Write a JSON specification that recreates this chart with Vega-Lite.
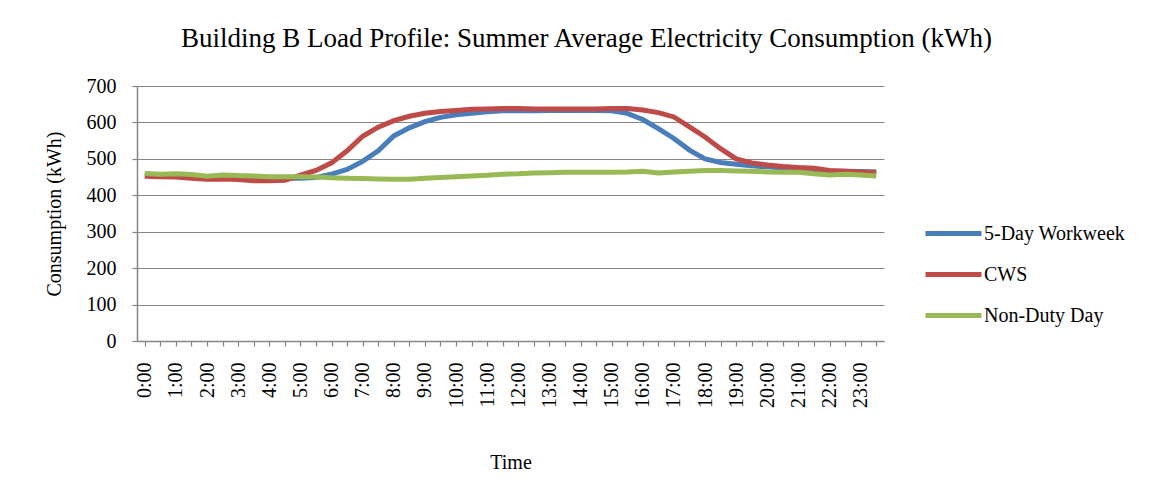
{
  "$schema": "https://vega.github.io/schema/vega-lite/v6.json",
  "width": 747,
  "height": 255,
  "autosize": "none",
  "padding": {"left": 137, "top": 86, "right": 270, "bottom": 146},
  "background": "white",
  "title": {
    "text": "Building B Load Profile: Summer Average Electricity Consumption (kWh)",
    "font": "Liberation Serif",
    "fontSize": 27,
    "fontWeight": "normal",
    "color": "black",
    "anchor": "middle",
    "dx": 76,
    "baseline": "alphabetic",
    "offset": 2
  },
  "config": {
    "font": "Liberation Serif",
    "view": {"stroke": null},
    "axis": {
      "labelFont": "Liberation Serif",
      "titleFont": "Liberation Serif",
      "labelFontSize": 20,
      "titleFontSize": 20,
      "labelColor": "black",
      "titleColor": "black",
      "titleFontWeight": "normal",
      "domainColor": "#868686",
      "tickColor": "#868686",
      "gridColor": "#868686",
      "domainWidth": 1.5,
      "tickWidth": 1.2,
      "gridWidth": 1.2,
      "tickSize": 5
    },
    "legend": {
      "labelFont": "Liberation Serif",
      "labelFontSize": 20,
      "labelColor": "black"
    }
  },
  "data": {
    "values": [
      {"time": "0:00", "series": "5-Day Workweek", "value": 455},
      {"time": "0:30", "series": "5-Day Workweek", "value": 454},
      {"time": "1:00", "series": "5-Day Workweek", "value": 453},
      {"time": "1:30", "series": "5-Day Workweek", "value": 451},
      {"time": "2:00", "series": "5-Day Workweek", "value": 449},
      {"time": "2:30", "series": "5-Day Workweek", "value": 449},
      {"time": "3:00", "series": "5-Day Workweek", "value": 448},
      {"time": "3:30", "series": "5-Day Workweek", "value": 447},
      {"time": "4:00", "series": "5-Day Workweek", "value": 447},
      {"time": "4:30", "series": "5-Day Workweek", "value": 447},
      {"time": "5:00", "series": "5-Day Workweek", "value": 447},
      {"time": "5:30", "series": "5-Day Workweek", "value": 449},
      {"time": "6:00", "series": "5-Day Workweek", "value": 458},
      {"time": "6:30", "series": "5-Day Workweek", "value": 471},
      {"time": "7:00", "series": "5-Day Workweek", "value": 493},
      {"time": "7:30", "series": "5-Day Workweek", "value": 522},
      {"time": "8:00", "series": "5-Day Workweek", "value": 563},
      {"time": "8:30", "series": "5-Day Workweek", "value": 585},
      {"time": "9:00", "series": "5-Day Workweek", "value": 602},
      {"time": "9:30", "series": "5-Day Workweek", "value": 614},
      {"time": "10:00", "series": "5-Day Workweek", "value": 621},
      {"time": "10:30", "series": "5-Day Workweek", "value": 625},
      {"time": "11:00", "series": "5-Day Workweek", "value": 629},
      {"time": "11:30", "series": "5-Day Workweek", "value": 632},
      {"time": "12:00", "series": "5-Day Workweek", "value": 632},
      {"time": "12:30", "series": "5-Day Workweek", "value": 632},
      {"time": "13:00", "series": "5-Day Workweek", "value": 633},
      {"time": "13:30", "series": "5-Day Workweek", "value": 633},
      {"time": "14:00", "series": "5-Day Workweek", "value": 633},
      {"time": "14:30", "series": "5-Day Workweek", "value": 633},
      {"time": "15:00", "series": "5-Day Workweek", "value": 632},
      {"time": "15:30", "series": "5-Day Workweek", "value": 625},
      {"time": "16:00", "series": "5-Day Workweek", "value": 608},
      {"time": "16:30", "series": "5-Day Workweek", "value": 583},
      {"time": "17:00", "series": "5-Day Workweek", "value": 556},
      {"time": "17:30", "series": "5-Day Workweek", "value": 524},
      {"time": "18:00", "series": "5-Day Workweek", "value": 500},
      {"time": "18:30", "series": "5-Day Workweek", "value": 490},
      {"time": "19:00", "series": "5-Day Workweek", "value": 485},
      {"time": "19:30", "series": "5-Day Workweek", "value": 481},
      {"time": "20:00", "series": "5-Day Workweek", "value": 478},
      {"time": "20:30", "series": "5-Day Workweek", "value": 475},
      {"time": "21:00", "series": "5-Day Workweek", "value": 473},
      {"time": "21:30", "series": "5-Day Workweek", "value": 470},
      {"time": "22:00", "series": "5-Day Workweek", "value": 467},
      {"time": "22:30", "series": "5-Day Workweek", "value": 466},
      {"time": "23:00", "series": "5-Day Workweek", "value": 465},
      {"time": "23:30", "series": "5-Day Workweek", "value": 464},
      {"time": "0:00", "series": "CWS", "value": 452},
      {"time": "0:30", "series": "CWS", "value": 451},
      {"time": "1:00", "series": "CWS", "value": 450},
      {"time": "1:30", "series": "CWS", "value": 447},
      {"time": "2:00", "series": "CWS", "value": 444},
      {"time": "2:30", "series": "CWS", "value": 445},
      {"time": "3:00", "series": "CWS", "value": 443},
      {"time": "3:30", "series": "CWS", "value": 440},
      {"time": "4:00", "series": "CWS", "value": 440},
      {"time": "4:30", "series": "CWS", "value": 441},
      {"time": "5:00", "series": "CWS", "value": 455},
      {"time": "5:30", "series": "CWS", "value": 468},
      {"time": "6:00", "series": "CWS", "value": 489},
      {"time": "6:30", "series": "CWS", "value": 522},
      {"time": "7:00", "series": "CWS", "value": 562},
      {"time": "7:30", "series": "CWS", "value": 587},
      {"time": "8:00", "series": "CWS", "value": 605},
      {"time": "8:30", "series": "CWS", "value": 617},
      {"time": "9:00", "series": "CWS", "value": 625},
      {"time": "9:30", "series": "CWS", "value": 630},
      {"time": "10:00", "series": "CWS", "value": 633},
      {"time": "10:30", "series": "CWS", "value": 636},
      {"time": "11:00", "series": "CWS", "value": 637},
      {"time": "11:30", "series": "CWS", "value": 638},
      {"time": "12:00", "series": "CWS", "value": 638},
      {"time": "12:30", "series": "CWS", "value": 637},
      {"time": "13:00", "series": "CWS", "value": 637},
      {"time": "13:30", "series": "CWS", "value": 637},
      {"time": "14:00", "series": "CWS", "value": 637},
      {"time": "14:30", "series": "CWS", "value": 637},
      {"time": "15:00", "series": "CWS", "value": 638},
      {"time": "15:30", "series": "CWS", "value": 638},
      {"time": "16:00", "series": "CWS", "value": 634},
      {"time": "16:30", "series": "CWS", "value": 627},
      {"time": "17:00", "series": "CWS", "value": 615},
      {"time": "17:30", "series": "CWS", "value": 588},
      {"time": "18:00", "series": "CWS", "value": 560},
      {"time": "18:30", "series": "CWS", "value": 528},
      {"time": "19:00", "series": "CWS", "value": 500},
      {"time": "19:30", "series": "CWS", "value": 489},
      {"time": "20:00", "series": "CWS", "value": 483},
      {"time": "20:30", "series": "CWS", "value": 479},
      {"time": "21:00", "series": "CWS", "value": 476},
      {"time": "21:30", "series": "CWS", "value": 474},
      {"time": "22:00", "series": "CWS", "value": 468},
      {"time": "22:30", "series": "CWS", "value": 466},
      {"time": "23:00", "series": "CWS", "value": 464},
      {"time": "23:30", "series": "CWS", "value": 463},
      {"time": "0:00", "series": "Non-Duty Day", "value": 460},
      {"time": "0:30", "series": "Non-Duty Day", "value": 458},
      {"time": "1:00", "series": "Non-Duty Day", "value": 459},
      {"time": "1:30", "series": "Non-Duty Day", "value": 457},
      {"time": "2:00", "series": "Non-Duty Day", "value": 452},
      {"time": "2:30", "series": "Non-Duty Day", "value": 456},
      {"time": "3:00", "series": "Non-Duty Day", "value": 454},
      {"time": "3:30", "series": "Non-Duty Day", "value": 453},
      {"time": "4:00", "series": "Non-Duty Day", "value": 451},
      {"time": "4:30", "series": "Non-Duty Day", "value": 451},
      {"time": "5:00", "series": "Non-Duty Day", "value": 451},
      {"time": "5:30", "series": "Non-Duty Day", "value": 450},
      {"time": "6:00", "series": "Non-Duty Day", "value": 448},
      {"time": "6:30", "series": "Non-Duty Day", "value": 447},
      {"time": "7:00", "series": "Non-Duty Day", "value": 446},
      {"time": "7:30", "series": "Non-Duty Day", "value": 445},
      {"time": "8:00", "series": "Non-Duty Day", "value": 444},
      {"time": "8:30", "series": "Non-Duty Day", "value": 444},
      {"time": "9:00", "series": "Non-Duty Day", "value": 447},
      {"time": "9:30", "series": "Non-Duty Day", "value": 449},
      {"time": "10:00", "series": "Non-Duty Day", "value": 451},
      {"time": "10:30", "series": "Non-Duty Day", "value": 453},
      {"time": "11:00", "series": "Non-Duty Day", "value": 455},
      {"time": "11:30", "series": "Non-Duty Day", "value": 458},
      {"time": "12:00", "series": "Non-Duty Day", "value": 459},
      {"time": "12:30", "series": "Non-Duty Day", "value": 461},
      {"time": "13:00", "series": "Non-Duty Day", "value": 462},
      {"time": "13:30", "series": "Non-Duty Day", "value": 463},
      {"time": "14:00", "series": "Non-Duty Day", "value": 463},
      {"time": "14:30", "series": "Non-Duty Day", "value": 463},
      {"time": "15:00", "series": "Non-Duty Day", "value": 463},
      {"time": "15:30", "series": "Non-Duty Day", "value": 464},
      {"time": "16:00", "series": "Non-Duty Day", "value": 466},
      {"time": "16:30", "series": "Non-Duty Day", "value": 461},
      {"time": "17:00", "series": "Non-Duty Day", "value": 464},
      {"time": "17:30", "series": "Non-Duty Day", "value": 466},
      {"time": "18:00", "series": "Non-Duty Day", "value": 468},
      {"time": "18:30", "series": "Non-Duty Day", "value": 468},
      {"time": "19:00", "series": "Non-Duty Day", "value": 467},
      {"time": "19:30", "series": "Non-Duty Day", "value": 466},
      {"time": "20:00", "series": "Non-Duty Day", "value": 464},
      {"time": "20:30", "series": "Non-Duty Day", "value": 463},
      {"time": "21:00", "series": "Non-Duty Day", "value": 463},
      {"time": "21:30", "series": "Non-Duty Day", "value": 459},
      {"time": "22:00", "series": "Non-Duty Day", "value": 456},
      {"time": "22:30", "series": "Non-Duty Day", "value": 458},
      {"time": "23:00", "series": "Non-Duty Day", "value": 456},
      {"time": "23:30", "series": "Non-Duty Day", "value": 453}
    ]
  },
  "mark": {"type": "line", "strokeWidth": 5},
  "encoding": {
    "x": {
      "field": "time",
      "type": "ordinal",
      "sort": null,
      "scale": {"type": "point", "padding": 0.5},
      "axis": {
        "title": "Time",
        "titleY": 127,
        "titleBaseline": "alphabetic",
        "labelAngle": -90,
        "labelAlign": "right",
        "labelBaseline": "middle",
        "labelPadding": 16,
        "labelExpr": "indexof(datum.value, ':30') >= 0 ? '' : datum.value",
        "labelOverlap": false,
        "grid": false
      }
    },
    "y": {
      "field": "value",
      "type": "quantitative",
      "scale": {"domain": [0, 700], "nice": false},
      "axis": {
        "title": "Consumption (kWh)",
        "titleX": -77,
        "titleY": 127.5,
        "titleBaseline": "alphabetic",
        "values": [0, 100, 200, 300, 400, 500, 600, 700],
        "labelPadding": 16,
        "grid": true
      }
    },
    "color": {
      "field": "series",
      "type": "nominal",
      "scale": {
        "domain": ["5-Day Workweek", "CWS", "Non-Duty Day"],
        "range": ["#4A7EBB", "#BE4B48", "#98B954"]
      },
      "legend": {
        "title": null,
        "orient": "none",
        "legendX": 786,
        "legendY": 117,
        "symbolType": "stroke",
        "symbolSize": 3136,
        "symbolStrokeWidth": 5,
        "labelOffset": 0,
        "rowPadding": -5
      }
    }
  }
}
